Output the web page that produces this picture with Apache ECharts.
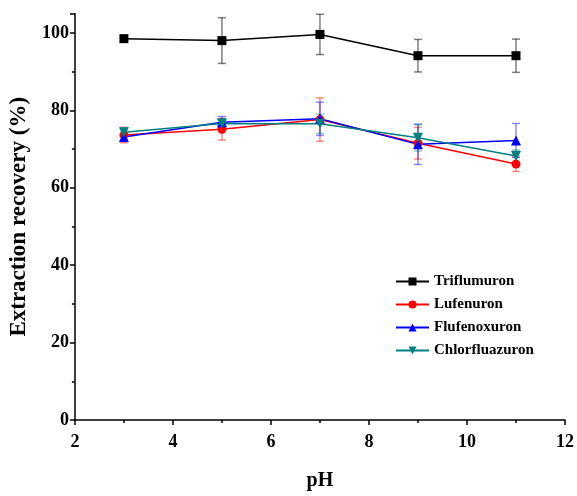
<!DOCTYPE html>
<html><head><meta charset="utf-8">
<script src="https://cdn.jsdelivr.net/npm/echarts@6/dist/echarts.min.js"></script>
<style>html,body{margin:0;padding:0;background:#fff}#c{width:577px;height:496px}</style>
</head><body><div id="c"></div>
<script>
var pH = [3, 5, 7, 9, 11];
var seriesNames = ['Triflumuron', 'Lufenuron', 'Flufenoxuron', 'Chlorfluazuron'];
var triflumuron = [98.5, 98.0, 99.6, 94.1, 94.1];
var triflumuronErr = [0.8, 5.9, 5.2, 4.2, 4.3];
var lufenuron = [73.6, 75.1, 77.6, 71.5, 66.1];
var lufenuronErr = [2.0, 2.8, 5.6, 4.1, 1.9];
var flufenoxuron = [73.1, 76.9, 77.8, 71.2, 72.2];
var flufenoxuronErr = [0.8, 1.5, 4.3, 5.2, 4.4];
var chlorfluazuron = [74.3, 76.6, 76.5, 72.9, 68.2];
var chlorfluazuronErr = [1.0, 1.2, 2.5, 3.4, 1.5];
var xTicks = [2, 4, 6, 8, 10, 12];
var yTicks = [0, 20, 40, 60, 80, 100];

var colors = ['#000000', '#ff0000', '#0000ff', '#008080'];
var errColors = ['rgba(0,0,0,0.5)', 'rgba(255,0,0,0.45)', 'rgba(0,0,255,0.45)', 'rgba(0,128,128,0.45)'];
var symbols = ['rect', 'circle', 'triangle', 'triangle'];
var rotates = [0, 0, 0, 180];
var sizes = [9, 9, 10, 10];
var vals = [triflumuron, lufenuron, flufenoxuron, chlorfluazuron];
var errs = [triflumuronErr, lufenuronErr, flufenoxuronErr, chlorfluazuronErr];

var font = '"Liberation Serif", "Times New Roman", serif';
var series = [];
for (var s = 0; s < 4; s++) {
  (function (s) {
    var errData = pH.map(function (x, i) { return [x, vals[s][i] - errs[s][i], vals[s][i] + errs[s][i]]; });
    series.push({
      type: 'custom', name: seriesNames[s] + '_err', silent: true, z: 2,
      data: errData,
      encode: { x: 0, y: [1, 2] },
      renderItem: function (params, api) {
        var x = api.value(0);
        var lo = api.coord([x, api.value(1)]);
        var hi = api.coord([x, api.value(2)]);
        var hw = 4;
        var st = { stroke: errColors[s], lineWidth: 1.5 };
        return { type: 'group', children: [
          { type: 'line', shape: { x1: lo[0], y1: lo[1], x2: hi[0], y2: hi[1] }, style: st },
          { type: 'line', shape: { x1: lo[0] - hw, y1: lo[1], x2: lo[0] + hw, y2: lo[1] }, style: st },
          { type: 'line', shape: { x1: hi[0] - hw, y1: hi[1], x2: hi[0] + hw, y2: hi[1] }, style: st }
        ]};
      }
    });
    series.push({
      type: 'line', name: seriesNames[s], z: 3,
      data: pH.map(function (x, i) { return [x, vals[s][i]]; }),
      symbol: symbols[s], symbolSize: sizes[s], symbolRotate: rotates[s],
      itemStyle: { color: colors[s] },
      lineStyle: { color: colors[s], width: 1.5 },
      emphasis: { disabled: true }
    });
  })(s);
}

var chart = echarts.init(document.getElementById('c'));
chart.setOption({
  animation: false,
  backgroundColor: '#fff',
  grid: { left: 74, right: 10, top: 13.5, bottom: 74 },
  legend: {
    data: seriesNames, orient: 'vertical', left: 390, top: 269, itemGap: 8,
    itemWidth: 33, itemHeight: 10,
    textStyle: { fontFamily: font, fontWeight: 'bold', fontSize: 15, color: '#000' }
  },
  xAxis: {
    type: 'value', min: 2, max: 12, interval: 2,
    name: 'pH', nameLocation: 'middle', nameGap: 51,
    nameTextStyle: { fontFamily: font, fontWeight: 'bold', fontSize: 20, color: '#000' },
    axisLine: { lineStyle: { color: '#000', width: 1.5 } },
    axisTick: { show: true, inside: false, length: 5, lineStyle: { color: '#000', width: 1.5 } },
    minorTick: { show: true, splitNumber: 2, length: 3, lineStyle: { color: '#000', width: 1.5 } },
    axisLabel: { fontFamily: font, fontWeight: 'bold', fontSize: 18, color: '#000', margin: 13 },
    splitLine: { show: false }
  },
  yAxis: {
    type: 'value', min: 0, max: 105, interval: 20,
    name: 'Extraction recovery (%)', nameLocation: 'middle', nameGap: 40, nameRotate: 90,
    nameTextStyle: { fontFamily: font, fontWeight: 'bold', fontSize: 23, color: '#000', padding: [0, 0, 0, 0] },
    axisLine: { show: true, lineStyle: { color: '#000', width: 1.5 } },
    axisTick: { show: true, inside: false, length: 5, lineStyle: { color: '#000', width: 1.5 } },
    minorTick: { show: true, splitNumber: 2, length: 3, lineStyle: { color: '#000', width: 1.5 } },
    axisLabel: { fontFamily: font, fontWeight: 'bold', fontSize: 18, color: '#000', margin: 6,
      showMaxLabel: false, formatter: function (v) { return yTicks.indexOf(v) >= 0 ? String(v) : ''; } },
    splitLine: { show: false }
  },
  series: series
});
</script></body></html>
